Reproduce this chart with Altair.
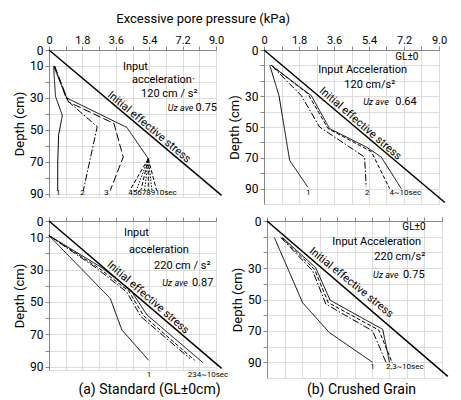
import altair as alt
import pandas as pd

FONT = "Roboto"

X_TICKS = [0, 0.9, 1.8, 2.7, 3.6, 4.5, 5.4, 6.3, 7.2, 8.1, 9.0]
X_LABELS = [0, 1.8, 3.6, 5.4, 7.2, 9.0]
Y_TICKS = [0, 10, 20, 30, 40, 50, 60, 70, 80, 90]
YLAB_A = [0, 10, 30, 50, 70, 90]
YLAB_B = [0, 30, 50, 70, 90]

# ---------- (a) Standard, 120 cm/s2 ----------
A120_C1 = ([0.25, 0.35, 0.72, 0.52, 0.47, 0.47], [11, 29, 41, 53, 70, 88])
A120_C2 = ([0.3, 0.97, 2.6, 1.85], [10, 31.5, 48, 88])
A120_C3 = ([0.3, 1.05, 3.5, 4.0, 3.3], [10, 32.5, 46, 67, 88])
A120_MAIN = ([0.25, 0.95, 4.2, 5.35], [10, 30, 48.5, 68])
A120_FAN_END = [4.35, 4.7, 4.95, 5.15, 5.35, 5.55, 5.8]   # curves 4..10 at 88 cm
A120_EFF = ([0, 9.3], [0, 91])

# ---------- (b) Crushed grain, 120 cm/s2 ----------
B120_C1 = ([0.3, 0.77, 1.32, 2.25], [10, 29.6, 71.7, 89])
B120_C2 = ([0.38, 1.92, 2.86, 5.17, 5.26], [10, 29.6, 50, 69.5, 89])
B120_C4 = ([0.38, 2.26, 3.29, 5.52, 6.46], [10, 28.5, 51, 66, 90])
B120_C10 = ([0.38, 2.43, 3.37, 5.26, 6.03, 7.06], [10, 29.6, 51, 63, 69.5, 90])
B120_EFF = ([0, 9.3], [0, 99])

# ---------- (a) Standard, 220 cm/s2 ----------
A220_C1 = ([0, 3.3, 3.93, 5.37], [9, 47.8, 67.3, 86])
A220_C2 = ([0, 2.6, 4.2, 4.95, 7.6], [9, 29.5, 44, 59, 85])
A220_C3 = ([0, 2.68, 4.3, 5.1, 7.85], [9, 29, 43.3, 58.5, 86])
A220_C10 = ([0, 2.76, 4.4, 5.28, 8.3], [9, 28.2, 42.6, 58, 87.5])
A220_EFF = ([0, 9.3], [0, 91])

# ---------- (b) Crushed grain, 220 cm/s2 ----------
B220_C1 = ([0.38, 1.83, 3.2, 5.43], [10.6, 52, 71, 90])
B220_C2 = ([0.72, 2.35, 3.03, 5.43, 6.12], [10.6, 31.8, 53, 70, 90])
B220_C3 = ([0.76, 2.45, 3.15, 5.75, 6.45], [10.6, 31, 52, 69.5, 90.5])
B220_C10 = ([0.8, 2.5, 3.25, 5.95, 6.3], [10.6, 29.7, 50.5, 69, 90])
B220_EFF = ([0, 9.3], [0, 99])

STYLE_DOMAIN = ["solid", "dashdot", "longdash", "dashed", "dotted"]
STYLE_RANGE = [[1, 0], [7, 2, 1.5, 2], [8, 3], [4, 2], [1.5, 1.5]]


def curves_df(items):
    rows = []
    for name, style, (vs, ds) in items:
        for i, (v, d) in enumerate(zip(vs, ds)):
            rows.append(dict(curve=name, style=style, i=i, v=v, d=d))
    return pd.DataFrame(rows)


fan_items = []
for k, end in enumerate(A120_FAN_END):
    st = "dashed" if k % 2 == 0 else "dotted"
    fan_items.append((f"f{k+4}", st, ([5.35, end], [68, 88])))

CURVES_A120 = curves_df([("c1", "solid", A120_C1), ("c2", "dashdot", A120_C2),
                         ("c3", "longdash", A120_C3), ("main", "solid", A120_MAIN)] + fan_items)
CURVES_B120 = curves_df([("c1", "solid", B120_C1), ("c2", "dashdot", B120_C2),
                         ("c4", "dashed", B120_C4), ("c10", "solid", B120_C10)])
CURVES_A220 = curves_df([("c1", "solid", A220_C1), ("c2", "dashdot", A220_C2),
                         ("c3", "dashed", A220_C3), ("c10", "solid", A220_C10)])
CURVES_B220 = curves_df([("c1", "solid", B220_C1), ("c2", "dashdot", B220_C2),
                         ("c3", "dashed", B220_C3), ("c10", "solid", B220_C10)])

# annotation texts (left aligned): v, d, text
ANN_A120 = [(3.99, 10.5, "Input"), (4.47, 18.6, "acceleration·"), (4.96, 27.3, "120 cm / s²"), (7.9, 36.4, "0.75")]
ANN_B120 = [(2.79, 12.8, "Input  Acceleration"), (4.13, 22.7, "120 cm/s²"), (6.75, 33.7, "0.64")]
ANN_A220 = [(4.04, 7.6, "Input"), (4.31, 17.7, "acceleration"), (5.66, 27.6, "220 cm / s²"), (7.7, 38, "0.87")]
ANN_B220 = [(3.36, 13.6, "Input  Acceleration"), (5.52, 23.1, "220 cm/s²"), (7.0, 34.6, "0.75")]
GL = {"B120": (6.75, 4.3), "B220": (6.96, 4.0)}
UZ = {"A120": (6.4, 36.4), "B120": (5.1, 33.7), "A220": (6.1, 38), "B220": (5.45, 34.6)}
IES = {"A120": (5.39, 48.3, 40), "B120": (4.95, 47.9, 41), "A220": (5.33, 47.3, 41), "B220": (4.33, 39.3, 39)}
LAB_A120 = [(0.5, 89.5, "1"), (1.8, 89.5, "2"), (3.1, 89.5, "3"), (5.58, 89.5, "45678910sec")]
LAB_B120 = [(2.28, 93, "1"), (5.31, 93, "2"), (7.27, 93, "4~10sec")]
LAB_A220 = [(5.39, 95, "1"), (8.57, 95, "234~10sec")]
LAB_B220 = [(5.42, 93, "1"), (7.09, 93, "2,3~10sec")]


def panel(key, curves, eff, ann, labs, w, h, ymax, ylabs, show_xlabels, title=None, titledx=0):
    x = alt.X("v:Q", scale=alt.Scale(domain=[0, 9.0], nice=False, zero=False),
              axis=alt.Axis(orient="top", values=X_TICKS, labels=show_xlabels,
                            labelExpr="indexof([0,1.8,3.6,5.4,7.2,9], datum.value) >= 0 ? (datum.value == 0 ? '0' : format(datum.value, '.1f')) : ''",
                            title=None, tickSize=4, labelPadding=1, labelFontSize=11, labelFlush=False,
                            labelOverlap=False, labelFont=FONT))
    ylist = ",".join(str(v) for v in ylabs)
    y = alt.Y("d:Q", scale=alt.Scale(domain=[0, ymax], reverse=True, nice=False, zero=False),
              axis=alt.Axis(values=Y_TICKS, labelExpr=f"indexof([{ylist}], datum.value) >= 0 ? datum.label : ''",
                            title="Depth (cm)", titleFontSize=13, titlePadding=3, tickSize=4,
                            titleFont=FONT, titleFontWeight="normal", labelFont=FONT,
                            labelPadding=2, labelFontSize=12, labelOverlap=False))
    lines = alt.Chart(curves).mark_line(color="black", strokeWidth=1, clip=False).encode(
        x=x, y=y, detail="curve:N", order="i:Q",
        strokeDash=alt.StrokeDash("style:N", scale=alt.Scale(domain=STYLE_DOMAIN, range=STYLE_RANGE), legend=None))
    effdf = pd.DataFrame({"v": eff[0], "d": eff[1]})
    effl = alt.Chart(effdf).mark_line(color="black", strokeWidth=1.5, clip=False).encode(x=x, y=y)
    anndf = pd.DataFrame(ann, columns=["v", "d", "text"])
    annl = alt.Chart(anndf).mark_text(align="left", baseline="middle", font=FONT, fontSize=11,
                                      color="black").encode(x=x, y=y, text="text:N")
    uzdf = pd.DataFrame([{"v": UZ[key][0], "d": UZ[key][1], "text": "Uz ave"}])
    uzl = alt.Chart(uzdf).mark_text(align="left", baseline="middle", font=FONT, fontSize=9,
                                    fontStyle="italic", color="black").encode(x=x, y=y, text="text:N")
    iv, idd, ang = IES[key]
    iesdf = pd.DataFrame([{"v": iv, "d": idd, "text": "Initial  effective  stress"}])
    iesl = alt.Chart(iesdf).mark_text(align="center", baseline="middle", font=FONT, fontSize=11,
                                      angle=ang, color="black").encode(x=x, y=y, text="text:N")
    labdf = pd.DataFrame(labs, columns=["v", "d", "text"])
    labl = alt.Chart(labdf).mark_text(align="center", baseline="middle", font=FONT, fontSize=8,
                                      color="black").encode(x=x, y=y, text="text:N")
    layers = [effl, lines, annl, uzl, iesl, labl]
    if key in GL:
        gldf = pd.DataFrame([{"v": GL[key][0], "d": GL[key][1], "text": "GL±0"}])
        layers.append(alt.Chart(gldf).mark_text(align="left", baseline="middle", font=FONT, fontSize=10,
                                                color="black").encode(x=x, y=y, text="text:N"))
    props = dict(width=w, height=h)
    if title:
        props["title"] = alt.TitleParams(title, orient="bottom", anchor="middle", fontSize=14,
                                         fontWeight="normal", font=FONT, dx=titledx, offset=4)
    return alt.layer(*layers).properties(**props)


tl = panel("A120", CURVES_A120, A120_EFF, ANN_A120, LAB_A120, 167, 147, 92, YLAB_A, True)
tr = panel("B120", CURVES_B120, B120_EFF, ANN_B120, LAB_B120, 175, 154, 100, YLAB_B, True)
bl = panel("A220", CURVES_A220, A220_EFF, ANN_A220, LAB_A220, 167, 149, 92, YLAB_A, False,
           title="(a) Standard (GL±0cm)", titledx=17)
br = panel("B220", CURVES_B220, B220_EFF, ANN_B220, LAB_B220, 175, 157, 100, YLAB_B, False,
           title="(b) Crushed  Grain", titledx=7)

chart = alt.vconcat(
    alt.hconcat(tl, tr, spacing=2),
    alt.hconcat(bl, br, spacing=2),
    spacing=8,
    title=alt.TitleParams("Excessive  pore  pressure  (kPa)", anchor="middle", fontSize=13,
                          fontWeight="normal", font=FONT, dx=-29, offset=8),
).properties(
    padding={"left": 5, "top": 4, "right": 0, "bottom": 0}
).configure_view(stroke=None).configure_axis(
    domainColor="black", tickColor="black", labelColor="black", titleColor="black",
    labelFont=FONT, titleFont=FONT, titleFontWeight="normal", grid=False
).configure(background="white")

chart.save("out.html", embed_options={"renderer": "svg", "actions": False})
